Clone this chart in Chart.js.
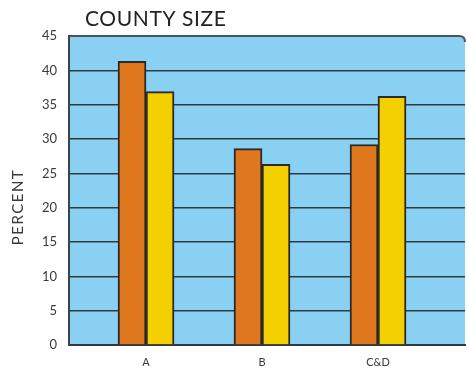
<!DOCTYPE html>
<html>
<head>
<meta charset="utf-8">
<script src="https://cdn.jsdelivr.net/npm/chart.js@4"></script>
<style>
  html, body { margin: 0; padding: 0; background: #fff; }
</style>
</head>
<body>
<canvas id="sizeChart" width="467" height="369"></canvas>
<script>
const categories = ["A", "B", "C&D"];
const orangeVals = [41.3, 28.6, 29.2];
const yellowVals = [36.9, 26.3, 36.2];
const yTicks = [0, 5, 10, 15, 20, 25, 30, 35, 40, 45];

const lineColor = "#2e3a40";

// blue panel with rounded top-right corner
const panelBg = {
  id: "panelBg",
  beforeDraw(chart) {
    const { ctx, chartArea: a } = chart;
    const r = 6;
    ctx.save();
    ctx.beginPath();
    ctx.moveTo(a.left, a.bottom);
    ctx.lineTo(a.left, a.top);
    ctx.lineTo(a.right - r, a.top);
    ctx.quadraticCurveTo(a.right, a.top, a.right, a.top + r);
    ctx.lineTo(a.right, a.bottom);
    ctx.closePath();
    ctx.fillStyle = "rgb(138,208,243)";
    ctx.fill();
    ctx.beginPath();
    ctx.moveTo(a.left, a.top);
    ctx.lineTo(a.right - r, a.top);
    ctx.quadraticCurveTo(a.right, a.top, a.right, a.top + r);
    ctx.lineWidth = 2;
    ctx.strokeStyle = "#4a555b";
    ctx.stroke();
    ctx.restore();
  },
  afterDraw(chart) {
    const { ctx } = chart;
    ctx.save();
    ctx.fillStyle = "#222";
    ctx.font = "21px Lato";
    ctx.letterSpacing = "0.6px";
    ctx.textBaseline = "middle";
    ctx.fillText("COUNTY SIZE", 85, 19);
    ctx.translate(18, 207);
    ctx.rotate(-Math.PI / 2);
    ctx.font = "15px Lato";
    ctx.letterSpacing = "1.5px";
    ctx.textAlign = "center";
    ctx.fillStyle = "#3a3a3a";
    ctx.fillText("PERCENT", 0, 0);
    ctx.restore();
  }
};

new Chart(document.getElementById("sizeChart"), {
  type: "bar",
  data: {
    datasets: [
      {
        label: "orange",
        data: categories.map((c, i) => ({ x: i, y: orangeVals[i] })),
        backgroundColor: "rgb(222,119,29)",
        borderColor: "#2a2a2a",
        borderWidth: 2,
        borderSkipped: "bottom",
        barThickness: 28
      },
      {
        label: "yellow",
        data: categories.map((c, i) => ({ x: i, y: yellowVals[i] })),
        backgroundColor: "rgb(245,208,0)",
        borderColor: "#2a2a2a",
        borderWidth: 2,
        borderSkipped: "bottom",
        barThickness: 28
      }
    ]
  },
  options: {
    responsive: false,
    animation: false,
    maintainAspectRatio: false,
    layout: { padding: { top: 36, right: 2, left: 0, bottom: 0 } },
    plugins: {
      legend: { display: false },
      tooltip: { enabled: false },
      title: { display: false }
    },
    scales: {
      x: {
        type: "linear",
        offset: false,
        min: -0.664,
        max: 2.75,
        grid: { display: false, drawTicks: false },
        border: { display: true, color: lineColor, width: 2 },
        ticks: {
          stepSize: 1,
          includeBounds: false,
          maxRotation: 0,
          autoSkip: false,
          padding: 11,
          color: "#3a3a3a",
          font: { family: "Lato", size: 11 },
          callback: (v) => Number.isInteger(v) ? categories[v] : ""
        },
        afterFit: (s) => { s.height = 24; }
      },
      y: {
        min: 0,
        max: 45,
        afterBuildTicks: (s) => { s.ticks = yTicks.map(v => ({ value: v })); },
        grid: {
          color: (ctx) => ctx.tick && (ctx.tick.value === 45 || ctx.tick.value === 0) ? "rgba(0,0,0,0)" : lineColor,
          lineWidth: 1.5,
          drawTicks: false
        },
        border: { display: true, color: "#3a4449", width: 2 },
        ticks: {
          padding: 12,
          autoSkip: false,
          color: "#3a3a3a",
          font: { family: "Lato", size: 13 }
        },
        afterFit: (s) => { s.width = 69; }
      }
    }
  },
  plugins: [panelBg]
});
</script>
</body>
</html>
